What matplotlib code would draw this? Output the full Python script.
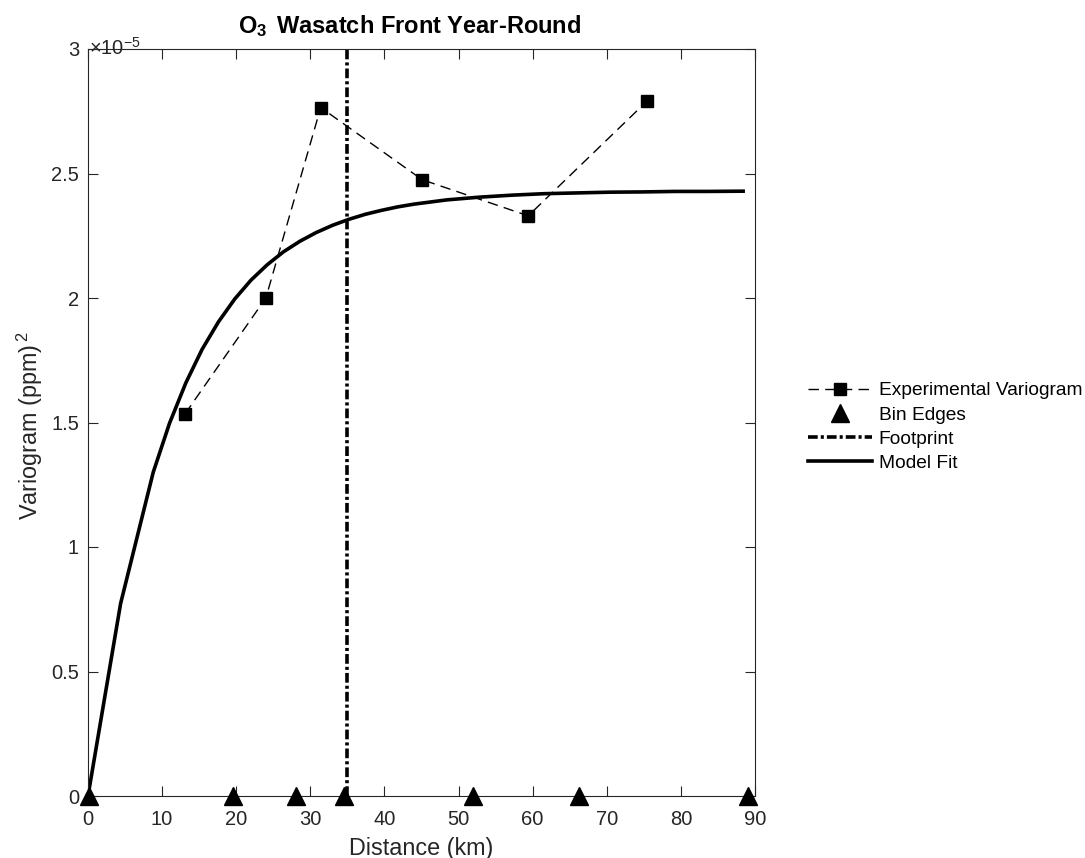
import matplotlib
matplotlib.use("Agg")
import matplotlib.pyplot as plt
from matplotlib.ticker import FuncFormatter, FixedLocator

plt.rcParams['font.family'] = ['Liberation Sans', 'DejaVu Sans']
plt.rcParams['mathtext.fontset'] = 'custom'
plt.rcParams['mathtext.rm'] = 'Liberation Sans'
plt.rcParams['mathtext.it'] = 'Liberation Sans:italic'
plt.rcParams['mathtext.bf'] = 'Liberation Sans:bold'
plt.rcParams['lines.scale_dashes'] = False

# ---- data ----
exp_dist = [13.1, 24.0, 31.4, 45.1, 59.4, 75.4]
exp_gamma = [1.535e-5, 2.00e-5, 2.765e-5, 2.475e-5, 2.33e-5, 2.79e-5]

bin_edges = [0.1, 19.6, 28.1, 34.5, 51.9, 66.3, 89.0]
bin_zero = [0, 0, 0, 0, 0, 0, 0]

footprint = 35.0

model_dist = [0.0, 4.4, 8.8, 11.0, 13.2, 15.4, 17.6, 19.8, 22.0, 24.2, 26.4,
              28.6, 30.8, 33.0, 35.2, 37.4, 39.6, 41.8, 44.0, 48.4, 52.8,
              57.2, 61.6, 66.0, 70.4, 74.8, 79.2, 83.6, 88.4]
model_gamma = [0.0, 0.773e-5, 1.300e-5, 1.497e-5, 1.659e-5, 1.794e-5,
               1.904e-5, 1.996e-5, 2.072e-5, 2.134e-5, 2.186e-5, 2.228e-5,
               2.263e-5, 2.292e-5, 2.316e-5, 2.336e-5, 2.352e-5, 2.366e-5,
               2.377e-5, 2.394e-5, 2.405e-5, 2.413e-5, 2.419e-5, 2.422e-5,
               2.425e-5, 2.426e-5, 2.428e-5, 2.428e-5, 2.429e-5]

x_ticks = [0, 10, 20, 30, 40, 50, 60, 70, 80, 90]
y_ticks = [0, 0.5e-5, 1.0e-5, 1.5e-5, 2.0e-5, 2.5e-5, 3.0e-5]

title = r'O$_{\mathbf{3}}\,$ Wasatch Front Year-Round'
xlabel = 'Distance (km)'
ylabel = r'Variogram (ppm)$\,^{2}$'

# ---- figure ----
W, H = 1085, 858
fig = plt.figure(figsize=(W / 100, H / 100), dpi=100)
L, R, T, B = 88, 755, 49, 796
ax = fig.add_axes([L / W, 1 - B / H, (R - L) / W, (B - T) / H])

axcol = '#262626'

l_exp, = ax.plot(exp_dist, exp_gamma, color='black', lw=1.0,
                 dashes=(7.5, 4.5), marker='s', ms=8.5, mfc='black',
                 mec='black', zorder=3, label='Experimental Variogram')
l_fp = ax.axvline(footprint, color='black', lw=2.6,
                  dashes=(7.0, 2.2, 2.2, 2.2), zorder=2, label='Footprint')
l_mod, = ax.plot(model_dist, model_gamma, color='black', lw=2.6,
                 zorder=2, label='Model Fit')
l_bin, = ax.plot(bin_edges, bin_zero, linestyle='none', marker='^', ms=12.5,
                 color='black', clip_on=False, zorder=5, label='Bin Edges')

ax.set_xlim(0, 90)
ax.set_ylim(0, 3e-5)
ax.xaxis.set_major_locator(FixedLocator(x_ticks))
ax.yaxis.set_major_locator(FixedLocator(y_ticks))
ax.yaxis.set_major_formatter(FuncFormatter(lambda v, p: '%g' % round(v * 1e5, 6)))
ax.xaxis.set_major_formatter(FuncFormatter(lambda v, p: '%g' % v))

ax.tick_params(direction='in', length=7, width=0.8, colors=axcol,
               labelsize=14.5, top=True, right=True)
ax.tick_params(axis='x', pad=10)
ax.tick_params(axis='y', pad=6.5)
for s in ax.spines.values():
    s.set_color(axcol)
    s.set_linewidth(0.8)

ax.set_xlabel(xlabel, fontsize=16.8, color=axcol)
ax.xaxis.set_label_coords(0.5, (B - 855) / (B - T))
ax.xaxis.label.set_verticalalignment('baseline')

ax.set_ylabel(ylabel, fontsize=16.8, color=axcol)
ax.yaxis.set_label_coords((45 - L) / (R - L), (B - 425.5) / (B - T))

fig.text(410 / W, 1 - 33 / H, title, fontsize=17, fontweight='bold',
         color='black', ha='center', va='baseline')

# exponent text
fig.text(89 / W, 1 - 55 / H, r'$\times$10$^{\mathregular{-5}}$',
         fontsize=14.5, color=axcol, ha='left', va='baseline')

# legend outside
handles = [l_exp, l_bin, l_fp, l_mod]
labels = ['Experimental Variogram', 'Bin Edges', 'Footprint', 'Model Fit']
leg = fig.legend(handles, labels, loc='upper left',
                 bbox_to_anchor=(808 / W, 1 - 382 / H), frameon=False,
                 fontsize=13.8, handlelength=3.33, handletextpad=0.36,
                 labelspacing=0.35, borderpad=0, borderaxespad=0)
for t in leg.get_texts():
    t.set_color('black')

fig.savefig('out.png', dpi=100)
